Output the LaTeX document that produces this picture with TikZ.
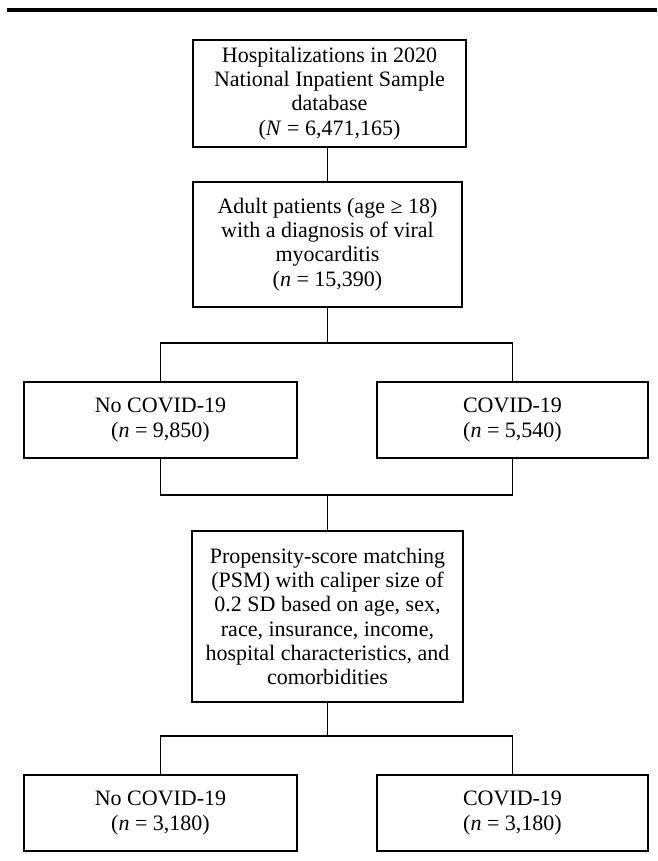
\documentclass[tikz,border=0pt]{standalone}
\usepackage{fontspec}
\setmainfont{Liberation Serif}
\usetikzlibrary{positioning}
\tikzset{
  flowbox/.style={draw,line width=1.3pt,align=center,inner sep=0pt,
    font=\fontsize{22}{24.3}\selectfont},
  flowline/.style={line width=1.3pt}
}
\begin{document}
\begin{tikzpicture}[x=1pt,y=-1pt]
\useasboundingbox(0,0)rectangle(657,861);
\pgfmathsetmacro{\kmid}{327.5}
\pgfmathsetmacro{\kleft}{160.5}
\pgfmathsetmacro{\kright}{512.5}
\draw[line width=4pt](7,10)--(657,10);
\node[flowbox,minimum width=273pt,minimum height=107pt](hosp)at(329.5,93.5){Hospitalizations in 2020\\National Inpatient Sample\\database\\(\textit{N} = 6,471,165)};
\node[flowbox,minimum width=269pt,minimum height=125pt](adult)at(\kmid,244.5){Adult patients (age ≥ 18)\\with a diagnosis of viral\\myocarditis\\(\textit{n} = 15,390)};
\node[flowbox,minimum width=273pt,minimum height=76pt](nocov)at(\kleft,420){No COVID-19\\(\textit{n} = 9,850)};
\node[flowbox,minimum width=271pt,minimum height=76pt](cov)at(\kright,420){COVID-19\\(\textit{n} = 5,540)};
\node[flowbox,minimum width=271pt,minimum height=171pt](psm)at(\kmid,616.5){Propensity-score matching\\(PSM) with caliper size of\\0.2 SD based on age, sex,\\race, insurance, income,\\hospital characteristics, and\\comorbidities};
\node[flowbox,minimum width=273pt,minimum height=76pt](nocovm)at(\kleft,813){No COVID-19\\(\textit{n} = 3,180)};
\node[flowbox,minimum width=271pt,minimum height=76pt](covm)at(\kright,813){COVID-19\\(\textit{n} = 3,180)};
\coordinate(splitA)at(\kmid,343);
\coordinate(joinB)at(\kmid,495);
\coordinate(splitC)at(\kmid,736);
\draw[flowline](hosp.south-|adult)--(adult);
\draw[flowline](adult)--(splitA);
\draw[flowline](nocov.north)|-(splitA)-|(cov.north);
\draw[flowline](nocov.south)|-(joinB)-|(cov.south);
\draw[flowline](joinB)--(psm);
\draw[flowline](psm)--(splitC);
\draw[flowline](nocovm.north)|-(splitC)-|(covm.north);
\end{tikzpicture}
\end{document}
